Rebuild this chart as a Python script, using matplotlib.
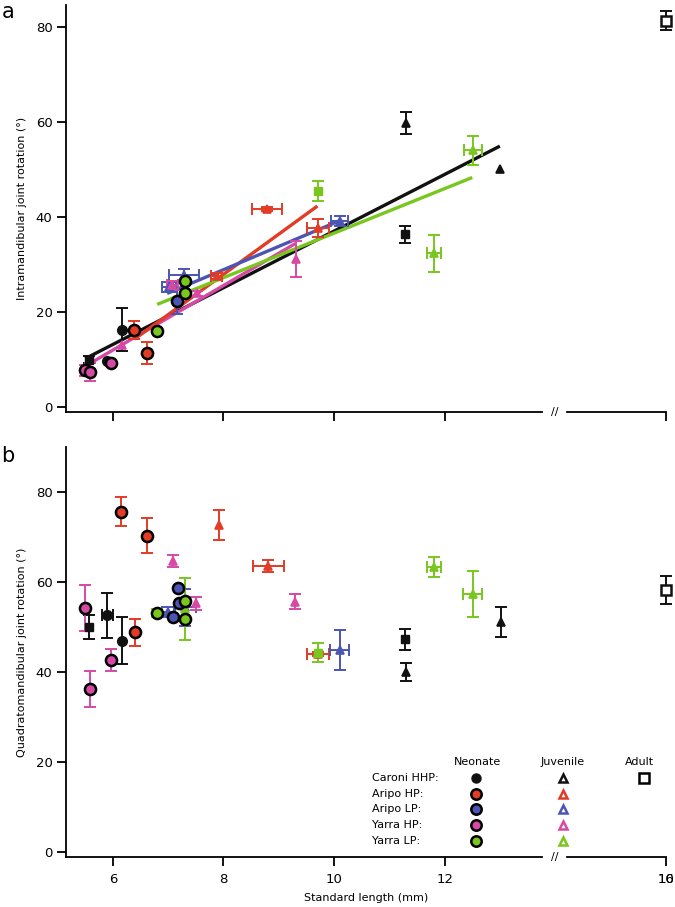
import numpy as np
import matplotlib
matplotlib.use("Agg")
import matplotlib.pyplot as plt

# colours per population
groups = ["Caroni HHP", "Aripo HP", "Aripo LP", "Yarra HP", "Yarra LP"]
colors = ["#111111", "#e23b26", "#4b55b3", "#d64aa6", "#78c61e"]

# shape codes: o = neonate, ^ = juvenile, s = small square, A = adult
# ---- panel a: intramandibular joint rotation ----
a_group = [0, 0, 0, 0, 0, 0, 0,
           1, 1, 1, 1, 1,
           2, 2, 2, 2,
           3, 3, 3, 3, 3, 3, 3,
           4, 4, 4, 4, 4, 4]
a_shape = ["s", "o", "o", "^", "s", "^", "A",
           "o", "o", "^", "^", "^",
           "o", "^", "^", "^",
           "o", "o", "o", "^", "^", "^", "^",
           "o", "o", "o", "s", "^", "^"]
a_x = [5.56, 5.89, 6.16, 11.31, 11.28, 13.01, 16.0,
       6.39, 6.62, 7.88, 8.79, 9.71,
       7.16, 7.01, 7.29, 10.10,
       5.49, 5.59, 5.97, 6.16, 7.07, 7.52, 9.31,
       6.80, 7.30, 7.31, 9.71, 11.81, 12.51]
a_y = [10.0, 9.7, 16.3, 59.7, 36.4, 50.0, 81.3,
       16.3, 11.4, 27.6, 41.6, 37.7,
       22.3, 25.3, 27.7, 39.2,
       7.7, 7.4, 9.35, 13.0, 25.6, 23.9, 31.1,
       15.9, 26.5, 24.0, 45.5, 32.4, 54.0]
a_xerr = [0, 0, 0, 0, 0, 0, 0,
          0, 0, 0.10, 0.27, 0.20,
          0, 0.13, 0.27, 0.16,
          0.05, 0, 0, 0, 0.10, 0, 0,
          0, 0, 0, 0, 0.13, 0.16]
a_yerr = [0.8, 0, 4.5, 2.3, 1.8, 0, 2.0,
          1.9, 2.3, 0.6, 0.4, 1.85,
          2.8, 1.0, 1.4, 1.0,
          1.2, 1.9, 0, 0, 1.0, 0.5, 3.8,
          0, 0, 0, 2.1, 3.9, 3.1]

# fitted lines in panel a (end points)
fit_group = [0, 3, 1, 2, 4]
fit_x0 = [5.50, 5.47, 6.39, 6.98, 6.80]
fit_x1 = [13.00, 9.30, 9.70, 10.10, 12.50]
fit_y0 = [10.2, 8.4, 14.3, 23.9, 21.6]
fit_y1 = [54.9, 34.4, 42.3, 39.2, 48.3]

# ---- panel b: quadratomandibular joint rotation ----
b_group = [0, 0, 0, 0, 0, 0, 0,
           1, 1, 1, 1, 1, 1,
           2, 2, 2, 2, 2, 2,
           3, 3, 3, 3, 3, 3,
           4, 4, 4, 4, 4, 4, 4, 4]
b_shape = ["s", "o", "o", "s", "^", "^", "A",
           "o", "o", "o", "^", "^", "^",
           "o", "o", "o", "^", "^", "^",
           "o", "o", "o", "^", "^", "^",
           "^", "o", "o", "o", "s", "^", "^", "^"]
b_x = [5.57, 5.90, 6.17, 11.28, 11.31, 13.02, 16.0,
       6.15, 6.40, 6.61, 7.91, 8.81, 9.71,
       7.09, 7.18, 7.20, 7.00, 7.30, 10.10,
       5.50, 5.59, 5.96, 7.09, 7.50, 9.30,
       7.30, 6.80, 7.30, 7.30, 9.71, 11.81, 12.51, 9.71]
b_y = [50.0, 52.6, 46.9, 47.2, 40.0, 51.1, 58.2,
       75.6, 48.8, 70.2, 72.6, 63.5, 44.0,
       52.1, 58.7, 55.4, 53.3, 54.3, 44.8,
       54.2, 36.2, 42.6, 64.6, 55.2, 55.6,
       53.9, 53.1, 55.8, 51.7, 44.3, 63.2, 57.3, 44.3]
b_xerr = [0, 0.10, 0, 0, 0, 0, 0,
          0, 0, 0, 0, 0.28, 0.20,
          0, 0, 0, 0.12, 0.20, 0.17,
          0, 0, 0, 0, 0, 0,
          0, 0, 0, 0, 0, 0.13, 0.17, 0]
b_yerr = [2.6, 5.0, 5.2, 2.3, 2.0, 3.3, 3.2,
          3.2, 3.0, 3.9, 3.3, 1.3, 0.5,
          0, 0, 0, 1.0, 4.0, 4.4,
          5.1, 3.9, 2.5, 1.4, 1.5, 1.6,
          6.9, 0.8, 0, 0, 2.2, 2.2, 5.2, 0]

stages = ["Neonate", "Juvenile", "Adult"]
x_ticks = [6, 8, 10, 12, 16]
y_ticks = [0, 20, 40, 60, 80]

plt.rcParams["font.family"] = "DejaVu Sans"
fig = plt.figure(figsize=(6.75, 9.07), dpi=100)
ax_a = fig.add_axes([0.0973, 0.5457, 0.8889, 0.4488])
ax_b = fig.add_axes([0.0973, 0.0551, 0.8889, 0.4524])

XMIN, XMAX = 5.145, 16.0
BREAK0, BREAK1 = 13.76, 14.21
TICK_LEN, XPAD = 6.5, 5


def draw_marker(ax, x, y, shape, col, z=4):
    if shape == "o":
        if col == colors[0]:
            ax.plot(x, y, "o", ms=7, color=col, zorder=z, clip_on=False)
        else:
            ax.plot(x, y, "o", ms=8, mfc=col, mec="black", mew=1.8, zorder=z, clip_on=False)
    elif shape == "^":
        ax.plot(x, y, "^", ms=6, mfc=col, mec=col, mew=1.2, zorder=z, clip_on=False)
    elif shape == "s":
        ax.plot(x, y, "s", ms=5.5, mfc=col, mec=col, zorder=z, clip_on=False)
    elif shape == "A":
        ax.plot(x, y, "s", ms=6.5, mfc="white", mec=col, mew=1.8, zorder=z, clip_on=False)


def draw_points(ax, grp, shp, xs, ys, xe, ye):
    for g, s, x, y, ex, ey in zip(grp, shp, xs, ys, xe, ye):
        col = colors[g]
        if ey > 0:
            ax.errorbar(x, y, yerr=ey, fmt="none", ecolor=col, elinewidth=1.4,
                        capsize=4, capthick=1.4, zorder=3, clip_on=False)
        if ex > 0:
            ax.errorbar(x, y, xerr=ex, fmt="none", ecolor=col, elinewidth=1.4,
                        capsize=4, capthick=1.4, zorder=3, clip_on=False)
    # neonates on top of juveniles
    order = sorted(range(len(xs)), key=lambda i: shp[i] == "o")
    for i in order:
        draw_marker(ax, xs[i], ys[i], shp[i], colors[grp[i]], z=5 if shp[i] == "o" else 4)


def style_axes(ax, ylim, ylabel, show_xlabels):
    ax.set_xlim(XMIN, XMAX)
    ax.set_ylim(*ylim)
    for side in ["top", "right", "bottom"]:
        ax.spines[side].set_visible(False)
    ax.spines["left"].set_linewidth(1.3)
    tr = ax.get_xaxis_transform()
    ax.plot([XMIN, BREAK0], [0, 0], color="black", lw=1.3, transform=tr, clip_on=False)
    ax.plot([BREAK1, XMAX], [0, 0], color="black", lw=1.3, transform=tr, clip_on=False)
    ax.text((BREAK0 + BREAK1) / 2, 0, "//", transform=tr, ha="center", va="center",
            fontsize=8, color="black")
    ax.set_yticks(y_ticks)
    ax.set_xticks(x_ticks)
    ax.tick_params(direction="out", length=TICK_LEN, width=1.3, labelsize=9.5)
    ax.tick_params(axis="y", pad=3)
    ax.tick_params(axis="x", pad=XPAD)
    ax.set_ylabel(ylabel, fontsize=8, labelpad=6)
    if show_xlabels:
        ax.set_xticklabels([str(t) for t in x_ticks])
        # the last tick label in the original is printed twice on top of itself
        ax.annotate("10", xy=(16, 0), xycoords=tr, xytext=(0, -(TICK_LEN + XPAD)),
                    textcoords="offset points", ha="center", va="top", fontsize=9.5)
        ax.set_xlabel("Standard length (mm)", fontsize=8, labelpad=5)
    else:
        ax.set_xticklabels([])


# panel a
for g, x0, x1, y0, y1 in zip(fit_group, fit_x0, fit_x1, fit_y0, fit_y1):
    ax_a.plot([x0, x1], [y0, y1], color=colors[g], lw=2.4, zorder=2, solid_capstyle="butt")
draw_points(ax_a, a_group, a_shape, a_x, a_y, a_xerr, a_yerr)
style_axes(ax_a, (-1.05, 84.6), "Intramandibular joint rotation (°)", False)

# panel b
draw_points(ax_b, b_group, b_shape, b_x, b_y, b_xerr, b_yerr)
style_axes(ax_b, (-1.1, 90), "Quadratomandibular joint rotation (°)", True)

# legend drawn by hand inside panel b
ta = ax_b.transAxes
stage_x = [0.686, 0.829, 0.957]
mark_x = [0.684, 0.829, 0.964]
row_y = [0.192, 0.1535, 0.116, 0.078, 0.040]
for sx, name in zip(stage_x, stages):
    ax_b.text(sx, 0.232, name, transform=ta, ha="center", va="center", fontsize=8)
for i, (name, col) in enumerate(zip(groups, colors)):
    ax_b.text(0.51, row_y[i], name + ":", transform=ta, ha="left", va="center", fontsize=8)
    if i == 0:
        ax_b.plot(mark_x[0], row_y[i], "o", ms=6.5, color=col, transform=ta)
    else:
        ax_b.plot(mark_x[0], row_y[i], "o", ms=7.5, mfc=col, mec="black", mew=1.8, transform=ta)
    ax_b.plot(mark_x[1], row_y[i], "^", ms=6, mfc="white", mec=col, mew=1.8, transform=ta)
ax_b.plot(mark_x[2], row_y[0], "s", ms=6.5, mfc="white", mec="black", mew=1.8, transform=ta)

fig.text(0.002, 0.998, "a", fontsize=15, ha="left", va="top")
fig.text(0.002, 0.508, "b", fontsize=15, ha="left", va="top")

fig.savefig("out.png", dpi=100)
